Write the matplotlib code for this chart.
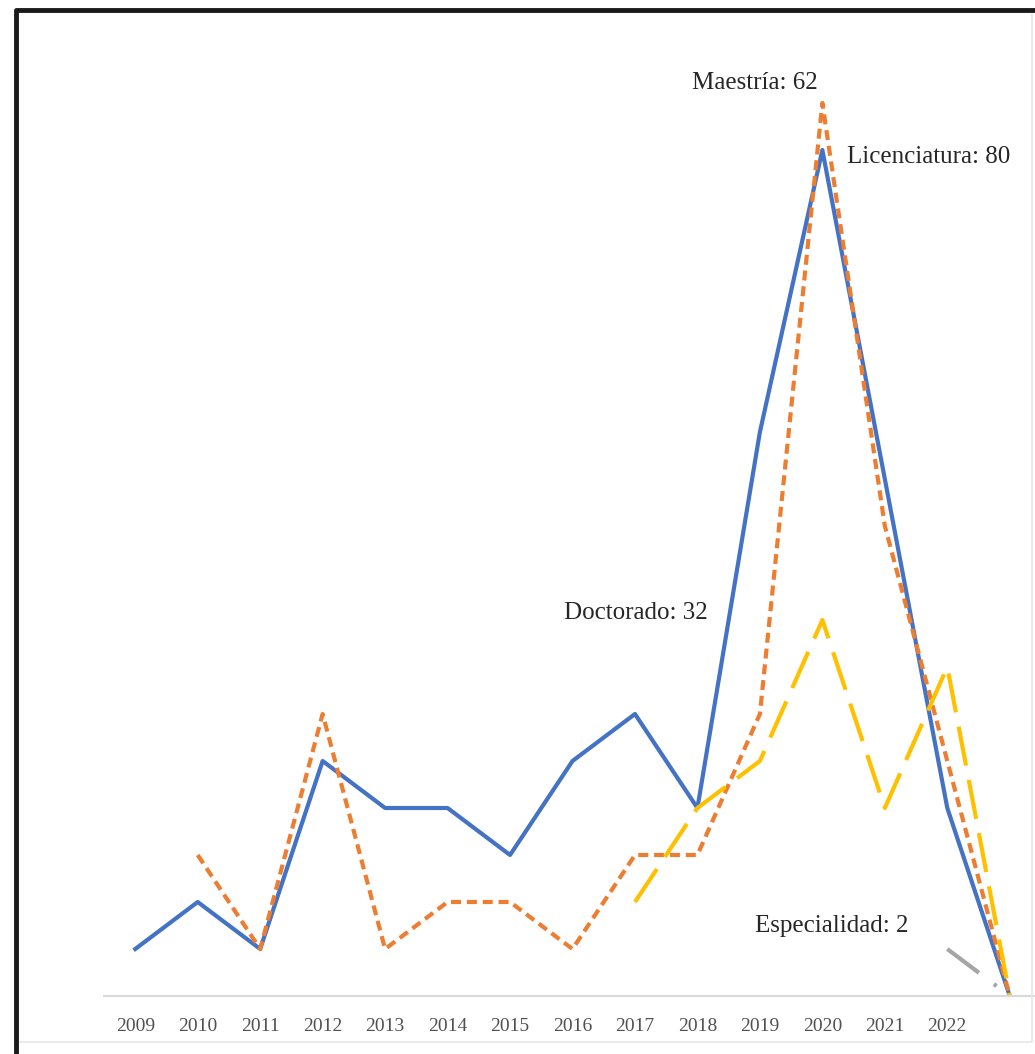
import matplotlib.pyplot as plt
import numpy as np
from matplotlib.lines import Line2D

# datos (número de trabajos por año y nivel)
years = ["2009", "2010", "2011", "2012", "2013", "2014", "2015", "2016",
         "2017", "2018", "2019", "2020", "2021", "2022", ""]
licenciatura = [1, 2, 1, 5, 4, 4, 3, 5, 6, 4, 12, 18, 11, 4, 0]
maestria = [np.nan, 3, 1, 6, 1, 2, 2, 1, 3, 3, 6, 19, 10, 5, 0]
doctorado = [np.nan] * 8 + [2, 4, 5, 8, 4, 7, 0]
especialidad = [np.nan] * 13 + [1, 0]

etiquetas = ["Licenciatura: 80", "Maestría: 62", "Doctorado: 32", "Especialidad: 2"]

W, H = 1035, 1054
fig = plt.figure(figsize=(W / 100, H / 100), dpi=100)
ax = fig.add_axes([104 / W, 1 - 996 / H, 937 / W, 940 / H])

x = np.arange(len(years))
ax.plot(x, licenciatura, color="#4472C4", lw=3, solid_joinstyle="round")
ax.plot(x, maestria, color="#ED7D31", lw=3, linestyle=(0, (2.4, 1.4)))
ax.plot(x, doctorado, color="#FFC000", lw=3, linestyle=(0, (9.5, 3.5)))
ax.plot(x, especialidad, color="#A5A5A5", lw=3, linestyle=(0, (9.5, 4.5, 0.8, 4.5)))

ax.set_xlim(-0.5, len(years) - 0.5)
ax.set_ylim(0, 20)
ax.set_xticks(x)
ax.set_xticklabels(years, family="Liberation Serif", fontsize=14, color="#505050")
ax.tick_params(axis="x", length=0, pad=16)
ax.set_yticks([])
for s in ["top", "left", "right"]:
    ax.spines[s].set_visible(False)
ax.spines["bottom"].set_color("#D9D9D9")
ax.spines["bottom"].set_linewidth(1.5)

fuente = dict(family="Liberation Serif", fontsize=18, color="#262626", va="center")
ax.text(11.39, 17.85, etiquetas[0], ha="left", **fuente)
ax.text(9.92, 19.43, etiquetas[1], ha="center", **fuente)
ax.text(9.16, 8.15, etiquetas[2], ha="right", **fuente)
ax.text(12.38, 1.49, etiquetas[3], ha="right", **fuente)

# marco de la imagen
def px(xp, yp):
    return xp / W, 1 - yp / H

fig.add_artist(Line2D(*zip(px(16, 1054), px(16, 10), px(1035, 10)), color="#1a1a1a", lw=3.5))
fig.add_artist(Line2D(*zip(px(20, 1042), px(1032, 1042), px(1032, 14)), color="#E6E6E6", lw=1.2))

fig.savefig("out.png", dpi=100)
